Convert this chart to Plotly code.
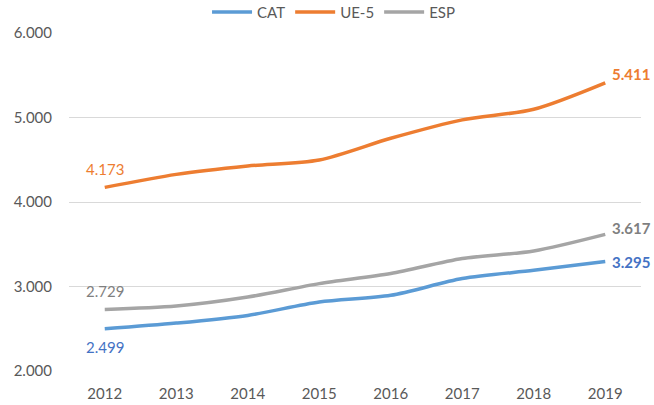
import plotly.graph_objects as go

years = ["2012", "2013", "2014", "2015", "2016", "2017", "2018", "2019"]
cat_vals = [2499, 2567, 2658, 2816, 2896, 3094, 3192, 3295]
ue5_vals = [4173, 4327, 4426, 4497, 4754, 4972, 5098, 5411]
esp_vals = [2729, 2769, 2875, 3034, 3153, 3331, 3421, 3617]
y_ticks = [2000, 3000, 4000, 5000, 6000]

series = [
    ("CAT", cat_vals, "#5B9BD5", "#4472C4", "below"),
    ("UE-5", ue5_vals, "#ED7D31", "#ED7D31", "above"),
    ("ESP", esp_vals, "#A5A5A5", "#7F7F7F", "above"),
]

FONT = "Lato, 'Open Sans', sans-serif"

def fmt(v):
    return f"{v:,}".replace(",", ".")

fig = go.Figure()
annotations = []
first_i, last_i = 0, len(years) - 1
for name, vals, color, lcolor, pos in series:
    fig.add_trace(go.Scatter(
        x=years, y=vals, name=name, mode="lines",
        line=dict(color=color, width=3.5, shape="spline", smoothing=0.8),
        hoverinfo="x+y+name",
    ))
    annotations.append(dict(
        x=first_i, y=vals[first_i], text=fmt(vals[first_i]), showarrow=False,
        xanchor="center", yanchor="bottom" if pos == "above" else "top",
        yshift=7 if pos == "above" else -7,
        font=dict(family=FONT, size=15, color=lcolor),
    ))
    annotations.append(dict(
        x=last_i, y=vals[last_i], text="<b>" + fmt(vals[last_i]) + "</b>", showarrow=False,
        xanchor="left", yanchor="middle", xshift=5,
        yshift=9 if name == "UE-5" else (6 if name == "ESP" else 0),
        font=dict(family=FONT, size=15, color=lcolor),
    ))

fig.update_layout(
    width=654, height=405,
    margin=dict(l=69, r=13, t=33, b=34, autoexpand=False),
    paper_bgcolor="white", plot_bgcolor="white",
    separators=",.",
    font=dict(family=FONT, size=15, color="#595959"),
    showlegend=True,
    legend=dict(orientation="h", x=0.51, xanchor="center", xref="container",
                y=0.97, yanchor="middle", yref="container",
                font=dict(family=FONT, size=15, color="#595959"),
                itemwidth=40, traceorder="normal", bgcolor="rgba(0,0,0,0)"),
    annotations=annotations,
    xaxis=dict(type="category", showgrid=False, showline=False, zeroline=False,
               ticks="", ticklabelstandoff=12,
               tickfont=dict(family=FONT, size=15, color="#595959"),
               range=[-0.5, 7.5]),
    yaxis=dict(range=[2000, 6000], tickvals=y_ticks, tickformat=",d",
               showgrid=True, gridcolor="#D9D9D9", gridwidth=1.3,
               zeroline=False, showline=False, ticks="",
               ticklabelstandoff=16,
               tickfont=dict(family=FONT, size=15, color="#595959")),
)

fig.write_html(
    "out.html",
    config={"displayModeBar": False},
    post_script="document.body.style.margin='0px';document.body.style.overflow='hidden';",
)
